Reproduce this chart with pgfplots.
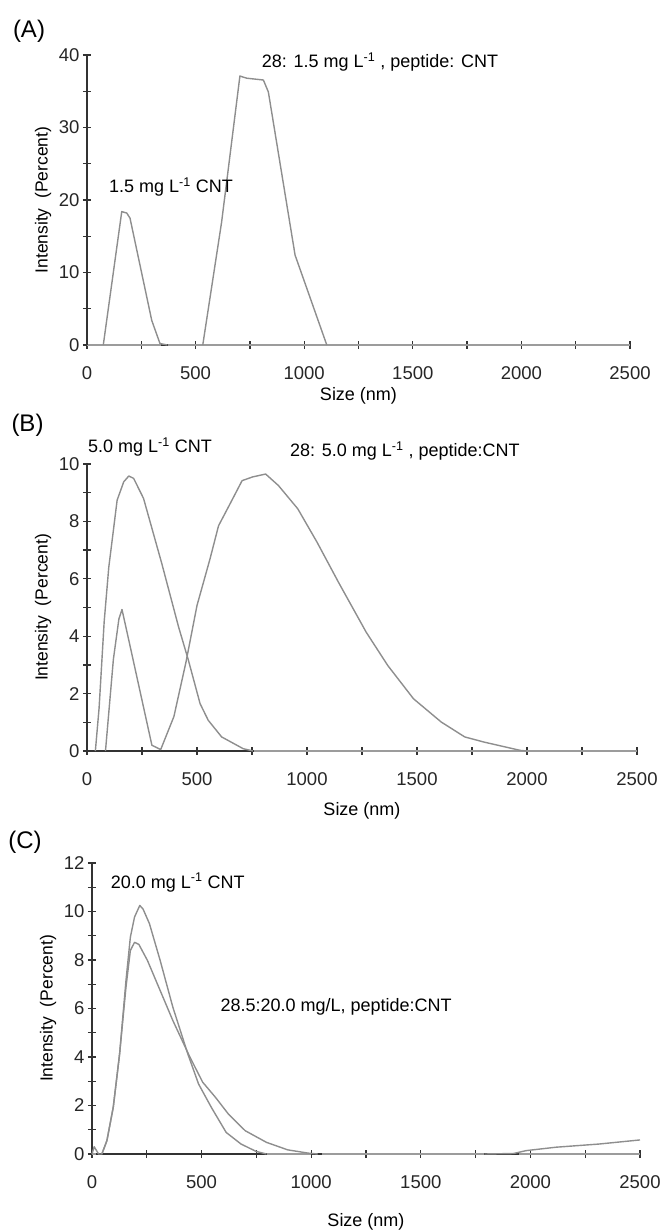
\documentclass[border=0pt]{standalone}
\usepackage{fontspec}
\setmainfont{Liberation Sans}
\usepackage{pgfplots}
\pgfplotsset{compat=1.18}

\definecolor{curve}{HTML}{8E8E8E}
\definecolor{axdark}{HTML}{333333}
\definecolor{axlight}{HTML}{9C9C9C}

\pgfplotsset{
  dls/.style={
    scale only axis, clip=false,
    axis x line=bottom, axis y line=left,
    axis line style={-},
    x axis line style={axlight, line width=1.5pt},
    y axis line style={axdark, line width=1.8pt},
    xmin=0, xmax=2500, ymin=0,
    xtick={0,500,...,2500}, minor x tick num=1,
    tick align=center, major tick length=8pt, minor tick length=8pt,
    every tick/.append style={axdark, line width=1.3pt},
    every minor tick/.append style={axdark, line width=1.3pt},
    tick label style={font=\fontsize{18.5}{21}\selectfont, text=black!85},
    xticklabel shift=14pt,
    /pgf/number format/assume math mode=true,
    /pgf/number format/set thousands separator={},
    xlabel={Size (nm)}, ylabel={Intensity\ \ (Percent)},
    every axis y label/.style={at={(rel axis cs:0,0.5)}, rotate=90, anchor=center,
      yshift=44pt, font=\fontsize{17.5}{20}\selectfont},
  },
  xlab/.style={every axis x label/.style={at={(rel axis cs:0.5,0)}, anchor=center,
      yshift=-#1, font=\fontsize{18}{20}\selectfont}},
  crv/.style={curve, line width=1.4pt, line join=round},
  zer/.style={axdark, line width=1.6pt},
}
\tikzset{ann/.style={font=\fontsize{18}{21}\selectfont, text=black}}

\begin{document}
\begin{tikzpicture}
\useasboundingbox (0,0) rectangle (671pt,1232pt);

% (A)
\begin{axis}[dls, xlab=51pt, at={(87pt,887pt)}, anchor=south west,
  width=543pt, height=290pt, ymax=40,
  ytick={0,10,...,40}, minor y tick num=1]
\addplot[zer] coordinates {(340,0) (375,0)};
\addplot[crv] coordinates {
  (75,0) (160,18.4) (183,18.2) (198,17.5) (298,3.4) (336,0.2) (370,0)
};
\addplot[crv] coordinates {
  (533,0) (620,17) (704,37.1) (735,36.8) (812,36.55) (835,34.9) (958,12.4) (1104,0)
};
\node[ann] at (axis cs:1349,39.0) {28: 1.5 mg L\textsuperscript{-1} , peptide: CNT};
\node[ann] at (axis cs:387,21.8) {1.5 mg L\textsuperscript{-1} CNT};
\end{axis}

% (B)
\begin{axis}[dls, xlab=60pt, at={(87pt,481pt)}, anchor=south west,
  width=550pt, height=287pt, ymax=10,
  ytick={0,2,...,10}, minor y tick num=1]
\addplot[zer] coordinates {(0,0) (760,0)};
\addplot[crv] coordinates {
  (38,0) (55,1.5) (78,4.5) (99,6.4) (137,8.74) (167,9.38) (190,9.58) (212,9.5)
  (257,8.8) (340,6.53) (416,4.33) (461,3.16) (514,1.65) (551,1.07) (612,0.49)
  (710,0.08) (755,0)
};
\addplot[crv] coordinates {
  (84,0) (120,3.2) (145,4.6) (159,4.93) (190,3.86) (295,0.2) (335,0.05)
  (395,1.2) (450,3.1) (500,5.07) (559,6.69) (598,7.85) (646,8.55) (705,9.42)
  (753,9.55) (812,9.65) (870,9.25) (958,8.44) (1046,7.27) (1143,5.88)
  (1269,4.14) (1367,2.98) (1484,1.82) (1610,1.01) (1717,0.49) (1805,0.31)
  (1970,0.02) (2000,0)
};
\node[ann] at (axis cs:286,10.6) {5.0 mg L\textsuperscript{-1} CNT};
\node[ann] at (axis cs:1445,10.45) {28: 5.0 mg L\textsuperscript{-1} , peptide:CNT};
\end{axis}

% (C)
\begin{axis}[dls, xlab=68pt, at={(92pt,78pt)}, anchor=south west,
  width=548pt, height=291pt, ymax=12,
  ytick={0,2,...,12}, minor y tick num=1]
\addplot[zer] coordinates {(20,0) (800,0)};
\addplot[zer] coordinates {(1000,0) (1050,0)};
\addplot[zer] coordinates {(1790,0) (1950,0)};
\addplot[crv] coordinates {
  (0,0) (10,0.3) (30,0) (45,0) (68,0.55) (97,1.93) (126,4.13) (155,7.15)
  (175,8.94) (194,9.77) (218,10.25) (233,10.1) (262,9.5) (311,7.98) (369,6.05)
  (437,4.13) (486,2.89) (544,1.93) (612,0.89) (680,0.41) (748,0.11) (796,0)
};
\addplot[crv] coordinates {
  (45,0) (68,0.55) (97,1.93) (126,4.13) (155,6.88) (175,8.39) (194,8.73)
  (214,8.64) (253,7.98) (311,6.74) (369,5.5) (447,3.99) (505,2.96) (563,2.34)
  (622,1.65) (699,0.96) (796,0.48) (893,0.17) (991,0.03) (1030,0)
};
\addplot[crv] coordinates {
  (1790,0) (1923,0.02) (1981,0.14) (2117,0.28) (2312,0.41) (2500,0.58)
};
\node[ann] at (axis cs:391,11.2) {20.0 mg L\textsuperscript{-1} CNT};
\node[ann] at (axis cs:1114,6.06) {28.5:20.0 mg/L, peptide:CNT};
\end{axis}

\node[font=\fontsize{24}{28}\selectfont] at (29pt,1201pt) {(A)};
\node[font=\fontsize{24}{28}\selectfont] at (27.5pt,807pt) {(B)};
\node[font=\fontsize{24}{28}\selectfont] at (25pt,390pt) {(C)};
\end{tikzpicture}
\end{document}
